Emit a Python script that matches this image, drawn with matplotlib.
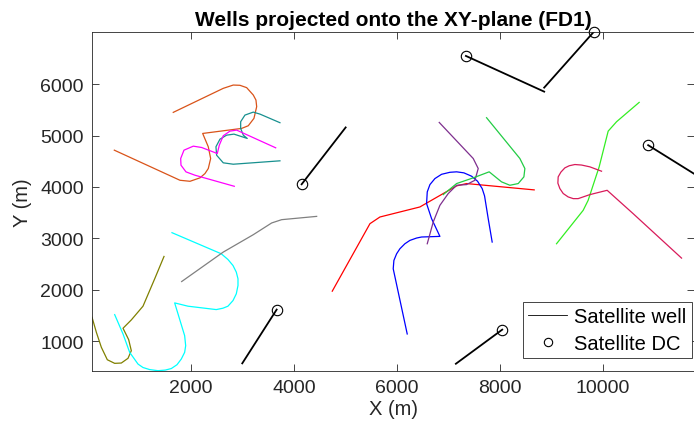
import matplotlib.pyplot as plt

plt.rcParams['font.family'] = ['Liberation Sans', 'DejaVu Sans']

# Well paths projected onto XY (m)
orange_x = [511, 1786, 1981, 2175, 2272, 2336, 2382, 2336, 2227, 2984, 3113, 3223, 3276, 3262, 3210, 3081, 2951, 2821, 2627, 1656]
orange_y = [4715, 4130, 4110, 4177, 4261, 4358, 4553, 4781, 5040, 5138, 5190, 5333, 5561, 5689, 5787, 5931, 5976, 5981, 5917, 5450]

teal_x = [3728, 3340, 3210, 3048, 2965, 2965, 3016, 3093, 2835, 2693, 2563, 2485, 2498, 2627, 2821, 3728]
teal_y = [5249, 5416, 5455, 5397, 5268, 5138, 5007, 4943, 5027, 5007, 4929, 4781, 4617, 4469, 4442, 4508]

magenta_x = [2841, 2078, 1903, 1806, 1800, 1864, 2045, 2207, 2511, 2550, 2627, 2757, 2887, 3645]
magenta_y = [4013, 4228, 4293, 4423, 4553, 4715, 4793, 4767, 4650, 4812, 4995, 5085, 5105, 4761]

olive_x = [78, 162, 259, 375, 518, 647, 777, 841, 790, 680, 841, 1068, 1295, 1476]
olive_y = [1467, 1175, 883, 641, 571, 577, 669, 817, 1031, 1253, 1415, 1682, 2214, 2649]

cyan_x = [518, 680, 809, 971, 1068, 1197, 1359, 1501, 1618, 1728, 1812, 1877, 1897, 1877, 1683, 1942,
          2491, 2621, 2718, 2816, 2880, 2913, 2913, 2880, 2816, 2718, 2588, 1631]
cyan_y = [1518, 1142, 785, 557, 490, 450, 428, 440, 470, 544, 655, 785, 914, 1109, 1746, 1682,
          1616, 1643, 1682, 1791, 1922, 2084, 2214, 2345, 2473, 2590, 2701, 3111]

gray_x = [1819, 2627, 3210, 3567, 3761, 4441]
gray_y = [2161, 2734, 3072, 3300, 3364, 3428]

red_x = [4744, 5476, 5670, 6446, 7159, 7353, 8666]
red_y = [1974, 3286, 3416, 3611, 4021, 4066, 3943]

blue_x = [6200, 5928, 5941, 5994, 6058, 6155, 6252, 6382, 6479, 6835, 6673, 6576, 6589, 6641, 6738, 6867,
          7029, 7159, 7301, 7450, 7566, 7656, 7702, 7773, 7850]
blue_y = [1142, 2409, 2571, 2701, 2799, 2896, 2961, 3007, 3027, 3039, 3384, 3676, 3904, 4046, 4163, 4246,
          4285, 4294, 4274, 4209, 4111, 3968, 3826, 3384, 2929]

purple_x = [6589, 6705, 6835, 6996, 7159, 7353, 7515, 7579, 7482, 6822]
purple_y = [2896, 3319, 3643, 3871, 4033, 4046, 4130, 4358, 4553, 5254]

green_x = [6899, 7159, 7482, 7792, 8032, 8194, 8356, 8466, 8485, 8388, 7741]
green_y = [3851, 4066, 4177, 4294, 4099, 4033, 4066, 4196, 4358, 4553, 5346]

lime_x = [9100, 9617, 9714, 9928, 10103, 10266, 10705]
lime_y = [2896, 3545, 3740, 4391, 5085, 5268, 5644]

crimson_x = [9974, 9747, 9586, 9456, 9346, 9262, 9185, 9132, 9126, 9165, 9230, 9326, 9424, 9520, 9747, 10083, 10588, 11528]
crimson_y = [4306, 4391, 4426, 4436, 4412, 4371, 4289, 4196, 4074, 3968, 3872, 3806, 3773, 3773, 3851, 3935, 3481, 2617]

wells = [
    (orange_x, orange_y, '#D95319'),
    (teal_x, teal_y, '#17908f'),
    (magenta_x, magenta_y, '#FF00FF'),
    (olive_x, olive_y, '#808000'),
    (cyan_x, cyan_y, '#00FFFF'),
    (gray_x, gray_y, '#808080'),
    (red_x, red_y, '#FF0000'),
    (blue_x, blue_y, '#0000FF'),
    (purple_x, purple_y, '#7E2F8E'),
    (green_x, green_y, '#22cc44'),
    (lime_x, lime_y, '#33ee22'),
    (crimson_x, crimson_y, '#D81B5A'),
]

# Satellite wells: drill centre (DC) -> end point
dc_x = [7340, 9819, 10880, 4149, 3664, 8045]
dc_y = [6547, 7010, 4812, 4052, 1616, 1226]
end_x = [8860, 8860, 12271, 5004, 2996, 7145]
end_y = [5853, 5931, 3945, 5157, 571, 563]

fig = plt.figure(figsize=(6.94, 4.39), dpi=100)
ax = fig.add_axes([0.1326, 0.1526, 0.8674, 0.7722])

for x, y, c in wells:
    ax.plot(x, y, color=c, linewidth=0.9)

for i in range(len(dc_x)):
    ax.plot([dc_x[i], end_x[i]], [dc_y[i], end_y[i]], color='black', linewidth=1.3,
            label='Satellite well' if i == 0 else None)
ax.plot(dc_x, dc_y, 'o', color='black', markerfacecolor='none', markersize=7.5,
        markeredgewidth=0.8, linestyle='none', label='Satellite DC', clip_on=False)

ax.set_xlim(78, 11770)
ax.set_ylim(422, 7012)
ax.set_xticks([2000, 4000, 6000, 8000, 10000])
ax.set_yticks([1000, 2000, 3000, 4000, 5000, 6000])
ax.tick_params(direction='in', top=True, right=True, labelsize=14, colors='#262626',
               length=5, width=0.6, pad=6)
for s in ax.spines.values():
    s.set_color('#262626')
    s.set_linewidth(0.6)

ax.set_title('Wells projected onto the XY-plane (FD1)', fontsize=15, fontweight='bold', pad=5)
ax.set_xlabel('X (m)', fontsize=14.5, color='#262626', labelpad=2)
ax.set_ylabel('Y (m)', fontsize=14.5, color='#262626', labelpad=6)

leg = ax.legend(loc='lower left', bbox_to_anchor=(0.716, 0.038), fontsize=14.5,
                frameon=True, fancybox=False, edgecolor='#262626', framealpha=1,
                borderpad=0.25, handlelength=1.95, handletextpad=0.35, borderaxespad=0,
                labelspacing=0.4)
leg.get_frame().set_linewidth(0.6)
for h in leg.legend_handles:
    h.set_linewidth(0.6)
    h.set_markersize(6)

fig.savefig('out.png', dpi=100)
